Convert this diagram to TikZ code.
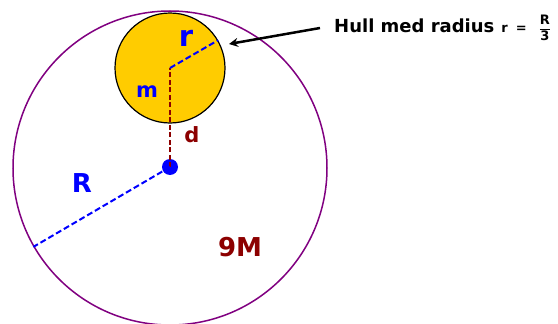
\documentclass[tikz,border=0pt]{standalone}
\usepackage{amsmath}
\usepackage{fontspec}
\setmainfont{DejaVu Sans}
\usetikzlibrary{arrows.meta}
\definecolor{ringpurple}{RGB}{128,0,128}
\definecolor{massgold}{RGB}{255,204,0}
\definecolor{darkred}{RGB}{140,0,0}
\definecolor{pureblue}{RGB}{0,0,255}
\tikzset{
  ring/.style={circle, draw=ringpurple, line width=1.5pt, inner sep=0pt, minimum size=#1},
  hole/.style={circle, draw=black, fill=massgold, line width=1.2pt, inner sep=0pt, minimum size=#1},
  centerdot/.style={circle, fill=pureblue, inner sep=0pt, minimum size=16pt},
  bluedash/.style={pureblue, line width=2pt, dash pattern=on 6pt off 3pt},
  reddash/.style={darkred, line width=1.6pt, dash pattern=on 5pt off 2.5pt},
  biglabel/.style={font=\bfseries\fontsize{#1}{#1}\selectfont, inner sep=0pt},
  pointer/.style={black, line width=2.5pt, -{Stealth[length=9pt,width=9pt]}},
}
\begin{document}
\begin{tikzpicture}[x=1pt,y=-1pt]
\useasboundingbox (0,0) rectangle (558,324);
\node[ring=314pt] (big) at (170,168) {};
\node[hole=110pt] (small) at (170,68) {};
\node[centerdot] (c) at (170,167) {};
\draw[reddash] (c.center) -- (small.center);
\draw[bluedash] (small.center) -- (small.30);
\draw[bluedash] (c.center) -- (big.210);
\node[biglabel=29pt, text=pureblue] (rl) at (186,38) {r};
\node[biglabel=21pt, text=pureblue] (ml) at (147,92) {m};
\node[biglabel=21pt, text=darkred] (dl) at (192,135) {d};
\node[biglabel=26pt, text=pureblue] (Rl) at (82,183) {R};
\node[biglabel=26pt, text=darkred] (Ml) at (240,247) {9M};
\node[font=\bfseries\fontsize{18}{18}\selectfont, anchor=west, inner sep=0pt] (lbl) at (334,28)
  {Hull med radius\hspace{7pt}{\fontsize{13}{13}\selectfont r\hspace{8pt}=\hspace{12pt}$\dfrac{\text{\bfseries R}}{\text{\bfseries 3}}$}};
\coordinate (tip) at (229,44);
\draw[pointer] ([xshift=-14pt]lbl.west) -- (tip);
\end{tikzpicture}
\end{document}
